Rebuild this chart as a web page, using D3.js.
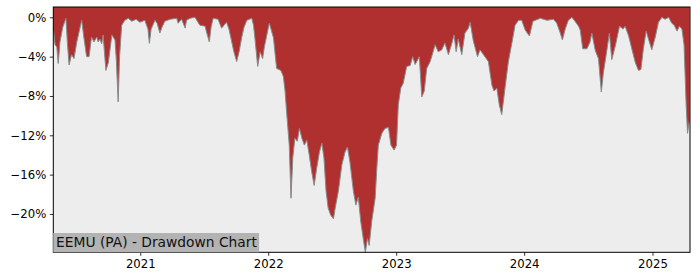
<!DOCTYPE html>
<html>
<head>
<meta charset="utf-8">
<title>EEMU (PA) - Drawdown Chart</title>
<script src="https://d3js.org/d3.v7.min.js"></script>
<style>
  body { margin: 0; background: #fff; }
  svg { font-family: "DejaVu Sans", sans-serif; }
</style>
</head>
<body>
<div id="chart"></div>
<script>
"use strict";

// dates and drawdown values (%)
var dates = [
  "2020-04-28","2020-05-03","2020-05-08","2020-05-12","2020-05-17","2020-05-25","2020-06-03","2020-06-07",
  "2020-06-12","2020-06-19","2020-06-26","2020-07-04","2020-07-18","2020-07-24","2020-08-01","2020-08-08",
  "2020-08-15","2020-08-22","2020-08-30","2020-09-03","2020-09-08","2020-09-13","2020-09-17","2020-09-25",
  "2020-10-02","2020-10-12","2020-10-21","2020-10-25","2020-10-30","2020-11-03","2020-11-09","2020-11-18",
  "2020-11-28","2020-12-08","2020-12-20","2020-12-31","2021-01-14","2021-01-23","2021-01-27","2021-02-01",
  "2021-02-12","2021-02-18","2021-02-26","2021-03-04","2021-03-12","2021-03-27","2021-04-15","2021-04-19",
  "2021-04-29","2021-05-09","2021-05-13","2021-05-23","2021-06-06","2021-06-20","2021-07-05","2021-07-09",
  "2021-07-17","2021-07-22","2021-07-28","2021-08-11","2021-08-21","2021-08-28","2021-09-04","2021-09-11",
  "2021-09-19","2021-09-25","2021-10-03","2021-10-10","2021-10-17","2021-10-24","2021-11-01","2021-11-15",
  "2021-11-20","2021-11-24","2021-12-02","2021-12-09","2021-12-16","2021-12-21","2021-12-28","2022-01-04",
  "2022-01-09","2022-01-16","2022-01-20","2022-01-25","2022-02-06","2022-02-13","2022-02-18","2022-02-23",
  "2022-03-02","2022-03-07","2022-03-12","2022-03-18","2022-03-25","2022-03-31","2022-04-07","2022-04-14",
  "2022-04-21","2022-04-28","2022-05-05","2022-05-12","2022-05-19","2022-05-27","2022-06-03","2022-06-09",
  "2022-06-15","2022-06-21","2022-06-28","2022-07-06","2022-07-11","2022-07-20","2022-07-30","2022-08-08",
  "2022-08-15","2022-08-22","2022-09-01","2022-09-08","2022-09-15","2022-09-22","2022-09-29","2022-10-05",
  "2022-10-11","2022-10-16","2022-10-23","2022-11-02","2022-11-07","2022-11-11","2022-11-21","2022-11-30",
  "2022-12-10","2022-12-17","2022-12-26","2023-01-02","2023-01-07","2023-01-14","2023-01-21","2023-01-31",
  "2023-02-10","2023-02-17","2023-02-24","2023-03-08","2023-03-15","2023-03-22","2023-03-29","2023-04-08",
  "2023-04-22","2023-05-01","2023-05-11","2023-05-20","2023-05-30","2023-06-09","2023-06-15","2023-06-21",
  "2023-06-27","2023-07-07","2023-07-16","2023-07-26","2023-07-31","2023-08-09","2023-08-21","2023-08-28",
  "2023-09-07","2023-09-21","2023-10-01","2023-10-07","2023-10-15","2023-10-22","2023-10-29","2023-11-08",
  "2023-11-17","2023-11-27","2023-12-06","2023-12-16","2023-12-25","2024-01-04","2024-01-16","2024-01-26",
  "2024-02-16","2024-03-06","2024-03-25","2024-04-03","2024-04-13","2024-04-19","2024-04-27","2024-05-06",
  "2024-05-16","2024-05-25","2024-06-04","2024-06-09","2024-06-16","2024-06-28","2024-07-07","2024-07-12",
  "2024-07-22","2024-07-31","2024-08-08","2024-08-14","2024-08-22","2024-08-31","2024-09-07","2024-09-17",
  "2024-09-29","2024-10-09","2024-10-15","2024-10-25","2024-11-03","2024-11-13","2024-11-22","2024-11-29",
  "2024-12-06","2024-12-14","2024-12-23","2024-12-30","2025-01-09","2025-01-18","2025-01-28","2025-02-06",
  "2025-02-16","2025-02-25","2025-03-04","2025-03-12","2025-03-19","2025-03-26","2025-04-01","2025-04-07",
  "2025-04-11","2025-04-17"
];
var drawdown = [
  -1.1,-2.8,-3.0,-4.7,-2.5,-1.0,-0.1,-2.5,
  -4.85,-3.8,-4.2,-2.5,-0.3,-2.0,-4.0,-4.0,
  -2.0,-2.5,-2.0,-2.5,-2.2,-2.7,-1.8,-5.4,
  -4.6,-1.8,-2.3,-4.5,-8.6,-4.0,-0.8,-0.3,
  -0.1,-0.4,-0.2,-0.5,-0.3,-1.2,-2.65,-1.2,
  -0.3,-0.6,-1.6,-1.0,-0.4,-0.2,-0.1,-0.6,
  -0.2,-1.1,-0.3,-0.1,0,-0.8,-0.9,-1.5,
  -2.5,-1.0,-0.1,-0.2,-1.1,-0.8,-0.5,-1.2,
  -2.5,-3.5,-4.5,-3.5,-2.1,-1.0,-0.3,-0.1,
  -0.8,-2.1,-5.0,-3.5,-4.2,-3.0,-1.8,-0.6,
  -1.2,-2.1,-3.5,-5.2,-5.4,-6.0,-7.5,-9.9,
  -13.0,-18.4,-14.3,-12.3,-12.6,-11.3,-12.3,-13.0,
  -12.5,-14.0,-15.7,-17.1,-15.4,-13.7,-12.8,-14.3,
  -17.7,-19.4,-20.1,-20.5,-19.4,-17.7,-15.0,-13.7,
  -13.2,-14.7,-17.7,-19.1,-18.3,-20.8,-22.5,-23.9,
  -22.5,-23.2,-20.8,-18.4,-15.2,-13.0,-11.8,-11.3,
  -11.2,-13.0,-13.5,-13.0,-8.9,-7.2,-6.7,-5.0,
  -4.9,-4.0,-4.8,-4.0,-8.1,-7.5,-5.2,-4.5,
  -2.8,-3.5,-3.3,-2.6,-3.8,-2.6,-1.8,-3.5,
  -2.2,-3.8,-1.6,-1.1,-0.5,-2.4,-4.0,-3.3,
  -3.8,-4.5,-6.9,-7.5,-7.2,-8.9,-9.9,-7.0,
  -4.5,-2.6,-0.8,-0.3,-0.3,-1.3,-1.9,-0.4,
  -0.1,-0.3,-0.2,-0.6,-1.6,-2.3,-1.2,-0.3,
  0,-0.4,-0.9,-1.3,-3.2,-3.2,-2.5,-1.6,
  -3.4,-4.2,-7.6,-5.6,-3.8,-1.6,-4.3,-2.9,
  -0.9,-1.2,-0.9,-1.9,-3.2,-4.6,-5.4,-5.3,
  -3.2,-1.4,-2.5,-3.3,-2.0,-0.5,0,-0.2,
  0,-0.6,-0.8,-1.4,-0.9,-1.2,-2.8,-8.9,
  -11.8,-10.3
];
var yTicks = [0, -4, -8, -12, -16, -20];
var xTicks = ["2021-01-01", "2022-01-01", "2023-01-01", "2024-01-01", "2025-01-01"];
var titel = "EEMU (PA) - Drawdown Chart";
var yTopo = 1.05;

var parse = d3.timeParse("%Y-%m-%d");
var dados = dates.map(function (d, i) { return { data: parse(d), dd: drawdown[i] }; });

var larguraSVG = 700, alturaSVG = 280;
var margem = { top: 7, direita: 10, bottom: 27.7, esquerda: 53.3 };
var larguraVis = larguraSVG - margem.esquerda - margem.direita,
    alturaVis = alturaSVG - margem.top - margem.bottom;

var svg = d3.select("#chart").append("svg")
    .attr("width", larguraSVG)
    .attr("height", alturaSVG);
var g = svg.append("g")
    .attr("transform", "translate(" + margem.esquerda + "," + margem.top + ")");

var x = d3.scaleTime()
    .domain([dados[0].data, d3.timeDay.offset(dados[dados.length - 1].data, 1)])
    .range([0, larguraVis]);
var y = d3.scaleLinear()
    .domain([d3.min(drawdown), yTopo])
    .range([alturaVis, 0]);

// fundo
g.append("rect")
    .attr("width", larguraVis)
    .attr("height", alturaVis)
    .attr("fill", "#ededed");

// area vermelha do topo ate a curva
var area = d3.area()
    .x(d => x(d.data))
    .y0(0)
    .y1(d => y(d.dd));
g.append("path")
    .datum(dados)
    .attr("d", area)
    .attr("fill", "#b03030");

g.append("path")
    .datum(dados)
    .attr("d", d3.line().x(d => x(d.data)).y(d => y(d.dd)))
    .attr("fill", "none")
    .attr("stroke", "#8a8a8a")
    .attr("stroke-width", 1);

// eixos
var fmtY = v => (v < 0 ? "\u2212" + Math.abs(v) : v) + "%";
var eixoY = g.append("g")
    .call(d3.axisLeft(y).tickValues(yTicks).tickFormat(fmtY).tickSize(3.5).tickPadding(3.5));
var eixoX = g.append("g")
    .attr("transform", "translate(0," + alturaVis + ")")
    .call(d3.axisBottom(x).tickValues(xTicks.map(parse)).tickFormat(d3.timeFormat("%Y")).tickSize(3.5).tickPadding(3.5));
[eixoY, eixoX].forEach(function (e) {
  e.select(".domain").remove();
  e.selectAll("text").attr("font-size", 11.7).attr("fill", "#000")
    .attr("font-family", "DejaVu Sans");
  e.selectAll("line").attr("stroke", "#000").attr("stroke-width", 0.8);
});

// moldura
g.append("rect")
    .attr("width", larguraVis)
    .attr("height", alturaVis)
    .attr("fill", "none")
    .attr("stroke", "#000")
    .attr("stroke-width", 1);

// rotulo
var rotulo = g.append("g").attr("transform", "translate(0," + (alturaVis - 19.3) + ")");
var caixa = rotulo.append("rect")
    .attr("fill", "#b3b3b3")
    .attr("height", 19.3);
var texto = rotulo.append("text")
    .attr("x", 2.8)
    .attr("y", 14)
    .attr("font-size", 13.8)
    .attr("fill", "#111")
    .text(titel);
caixa.attr("width", texto.node().getComputedTextLength() + 5);
</script>
</body>
</html>
